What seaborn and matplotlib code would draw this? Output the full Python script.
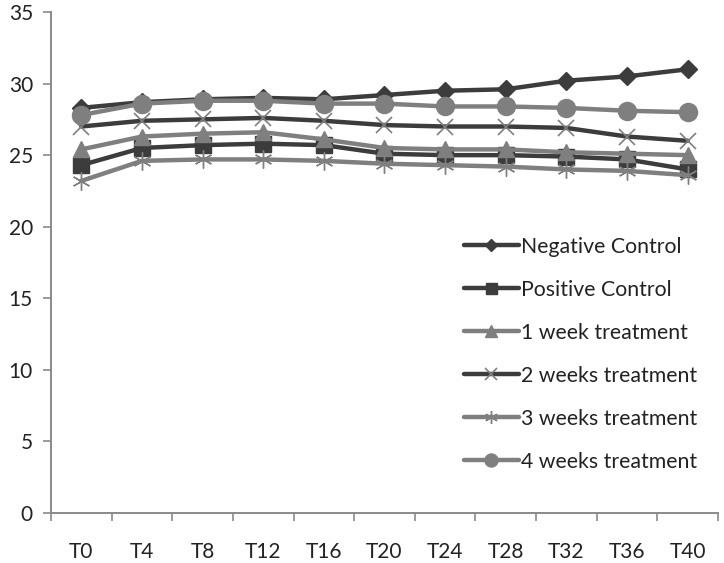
import numpy as np
import pandas as pd
import matplotlib
matplotlib.use("Agg")
import matplotlib.pyplot as plt
import seaborn as sns
from matplotlib.ticker import FixedLocator

sns.set_theme(style="white")
plt.rcParams['font.family'] = ['Lato', 'DejaVu Sans']

categories = ["T0", "T4", "T8", "T12", "T16", "T20", "T24", "T28", "T32", "T36", "T40"]
negative_control = [28.3, 28.7, 28.9, 29.0, 28.9, 29.2, 29.5, 29.6, 30.2, 30.5, 31.0]
positive_control = [24.3, 25.5, 25.7, 25.8, 25.7, 25.1, 25.0, 25.0, 24.9, 24.7, 24.0]
week1 = [25.4, 26.3, 26.5, 26.6, 26.1, 25.5, 25.4, 25.4, 25.2, 25.1, 25.0]
week2 = [27.0, 27.4, 27.5, 27.6, 27.4, 27.1, 27.0, 27.0, 26.9, 26.3, 26.0]
week3 = [23.2, 24.6, 24.7, 24.7, 24.6, 24.4, 24.3, 24.2, 24.0, 23.9, 23.6]
week4 = [27.8, 28.6, 28.8, 28.8, 28.6, 28.6, 28.4, 28.4, 28.3, 28.1, 28.0]
series_names = ["Negative Control", "Positive Control", "1 week treatment",
                "2 weeks treatment", "3 weeks treatment", "4 weeks treatment"]
yticks = [0, 5, 10, 15, 20, 25, 30, 35]

DARK = "#3c3c3c"
MID = "#7f7f7f"
styles = [
    dict(color=DARK, marker="D", mfc=DARK, mec=DARK, ms=9, mew=1),
    dict(color=DARK, marker="s", mfc=DARK, mec=DARK, ms=11, mew=1),
    dict(color=MID, marker="^", mfc=MID, mec=MID, ms=12, mew=1),
    dict(color=DARK, marker="x", mfc=MID, mec=MID, ms=12, mew=1.2),
    dict(color=MID, marker=(6, 2, 0), mfc=MID, mec=MID, ms=13, mew=1.0),
    dict(color=MID, marker="o", mfc=MID, mec=MID, ms=13, mew=1),
]
values = [negative_control, positive_control, week1, week2, week3, week4]

fig = plt.figure(figsize=(7.24, 5.63), dpi=100)
ax = fig.add_axes([0.0704, 0.0888, 0.9213, 0.8899])

for name, vals, st in zip(series_names, values, styles):
    df = pd.DataFrame({"t": categories, "v": vals})
    sns.lineplot(data=df, x="t", y="v", ax=ax, label=name, color=st["color"],
                 linewidth=3.2, marker=st["marker"], markersize=st["ms"],
                 markerfacecolor=st["mfc"], markeredgecolor=st["mec"],
                 markeredgewidth=st["mew"], sort=False)

ax.set_xlim(-0.5, len(categories) - 0.5)
ax.set_ylim(0, 35)
ax.set_yticks(yticks)
ax.set_xticks(range(len(categories)))
ax.set_xticklabels(categories)
ax.xaxis.set_minor_locator(FixedLocator(np.arange(-0.5, len(categories), 1.0)))
ax.tick_params(axis="x", which="major", length=0, pad=21, labelsize=15, colors="#222222")
ax.tick_params(axis="x", which="minor", length=6, width=1.2, color="#8a8a8a", direction="out", bottom=True)
ax.tick_params(axis="y", which="major", length=6, width=1.2, color="#8a8a8a", direction="out", left=True, labelsize=15, pad=7, labelcolor="#222222")
ax.set_xlabel("")
ax.set_ylabel("")
for s in ["top", "right"]:
    ax.spines[s].set_visible(False)
for s in ["left", "bottom"]:
    ax.spines[s].set_color("#8a8a8a")
    ax.spines[s].set_linewidth(1.4)
ax.grid(False)

leg = ax.legend(loc="upper left", bbox_to_anchor=(0.606, 0.568), frameon=False,
                fontsize=15.3, handlelength=2.6, handletextpad=0.12,
                labelspacing=1.08, borderaxespad=0, markerscale=0.72)
for t in leg.get_texts():
    t.set_color("#222222")

fig.savefig("out.png", dpi=100)
